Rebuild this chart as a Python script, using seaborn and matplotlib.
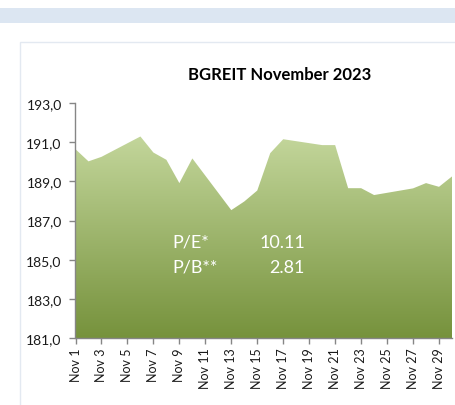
import matplotlib
matplotlib.use("Agg")
import matplotlib.pyplot as plt
import matplotlib.dates as mdates
from matplotlib.colors import LinearSegmentedColormap
from matplotlib.patches import PathPatch, Rectangle
import numpy as np
import pandas as pd
import seaborn as sns

# trading days in November 2023 and closing values of BGREIT
trade_days = ['2023-11-01', '2023-11-02', '2023-11-03', '2023-11-06', '2023-11-07',
              '2023-11-08', '2023-11-09', '2023-11-10', '2023-11-13', '2023-11-14',
              '2023-11-15', '2023-11-16', '2023-11-17', '2023-11-20', '2023-11-21',
              '2023-11-22', '2023-11-23', '2023-11-24', '2023-11-27', '2023-11-28',
              '2023-11-29', '2023-11-30']
close_values = [190.64, 190.02, 190.25, 191.29, 190.47,
                190.10, 188.91, 190.17, 187.53, 187.97,
                188.53, 190.44, 191.15, 190.85, 190.85,
                188.65, 188.65, 188.30, 188.64, 188.91,
                188.72, 189.25]

tick_days = ['2023-11-%02d' % d for d in range(1, 30, 2)]
tick_labels = ['Nov %d' % d for d in range(1, 30, 2)]
y_ticks = [181, 183, 185, 187, 189, 191, 193]

ratio_names = ['P/E*', 'P/B**']
ratio_values = ['10.11', '2.81']

df = pd.DataFrame({'date': pd.to_datetime(trade_days), 'close': close_values})

sns.set_theme(style="white")
plt.rcParams['font.family'] = ['Lato', 'DejaVu Sans']

fig = plt.figure(figsize=(4.56, 4.06), dpi=100)

# light blue band at the top and the chart frame
fig.patches.append(Rectangle((0, 1 - 24 / 406), 1, 15 / 406, transform=fig.transFigure,
                             facecolor='#dce6f2', edgecolor='none', zorder=0))
fig.patches.append(Rectangle((20 / 456, -0.1), 1.2, 1.1 - 43 / 406, transform=fig.transFigure,
                             facecolor='white', edgecolor='#e3e9f1', linewidth=1.0, zorder=0))

ax = fig.add_axes([75.5 / 456, 1 - 339 / 406, (452 - 75.5) / 456, (339 - 104) / 406])
ax.set_zorder(2)
ax.set_facecolor('none')

sns.lineplot(data=df, x='date', y='close', ax=ax, linewidth=0, color='#c3d69b')
poly = ax.fill_between(df['date'], close_values, 181, facecolor='none', edgecolor='none')

# vertical gradient clipped to the area
x0 = mdates.date2num(df['date'].iloc[0])
x1 = mdates.date2num(df['date'].iloc[-1])
grad = np.linspace(0, 1, 256).reshape(-1, 1)
cmap = LinearSegmentedColormap.from_list('grn', ['#c3d69b', '#76923c'])
img = ax.imshow(grad, cmap=cmap, aspect='auto', origin='upper',
                extent=[x0, x1, 181, max(close_values)], zorder=1, interpolation='bilinear')
clip = PathPatch(poly.get_paths()[0], transform=ax.transData, facecolor='none', edgecolor='none')
ax.add_patch(clip)
img.set_clip_path(clip)

ax.set_xlim(pd.Timestamp('2023-11-01'), pd.Timestamp('2023-11-30'))
ax.set_ylim(181, 193)
ax.set_yticks(y_ticks)
ax.yaxis.set_major_formatter(plt.FuncFormatter(lambda v, p: ('%.1f' % v).replace('.', ',')))
ax.set_xticks(pd.to_datetime(tick_days))
ax.set_xticklabels(tick_labels, rotation=90)
ax.set_xlabel('')
ax.set_ylabel('')

for side in ['top', 'right']:
    ax.spines[side].set_visible(False)
for side in ['left', 'bottom']:
    ax.spines[side].set_color('#868686')
    ax.spines[side].set_linewidth(1.0)
    ax.spines[side].set_zorder(3)
ax.tick_params(axis='both', which='major', direction='out', length=4, width=1,
               color='#868686', labelcolor='#1a1a1a', left=True, bottom=True)
ax.tick_params(axis='x', labelsize=9, pad=3)
ax.tick_params(axis='y', labelsize=10, pad=6)

# title
fig.text(280 / 456, 1 - 75 / 406, 'BGREIT November 2023', ha='center', va='center',
         fontsize=12, fontweight='bold', color='black', zorder=3)

# P/E and P/B annotation
for i in range(len(ratio_names)):
    yy = 1 - (243 + 25 * i) / 406
    fig.text(172 / 456, yy, ratio_names[i], ha='left', va='center', fontsize=13,
             color='white', zorder=5)
    fig.text(305 / 456, yy, ratio_values[i], ha='right', va='center', fontsize=13,
             color='white', zorder=5)

fig.savefig('out.png', dpi=100)
